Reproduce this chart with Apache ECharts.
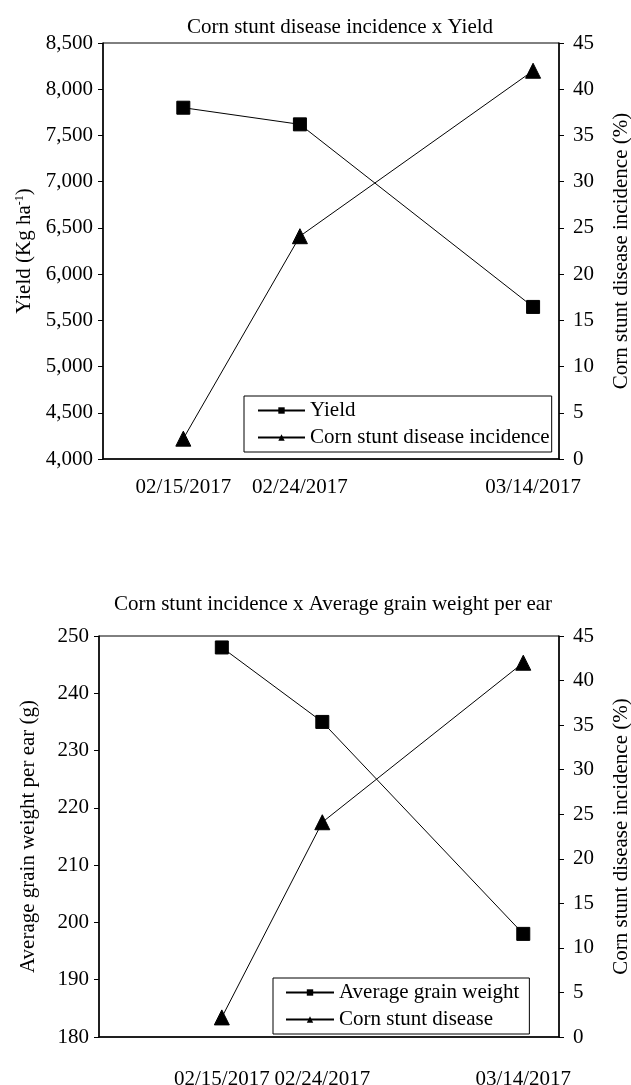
<!DOCTYPE html>
<html>
<head>
<meta charset="utf-8">
<script src="https://cdn.jsdelivr.net/npm/echarts@6/dist/echarts.min.js"></script>
<style>
html,body{margin:0;padding:0;background:#fff;}
#chart{width:631px;height:1085px;}
</style>
</head>
<body>
<div id="chart"></div>
<script>
// ---- data ----
const dates = ['2017-02-15', '2017-02-24', '2017-03-14'];
const dateLabels = ['02/15/2017', '02/24/2017', '03/14/2017'];
const yieldValues = [7800, 7620, 5645];
const incidenceTop = [2.2, 24.1, 42];
const grainWeight = [248, 235, 198];
const incidenceBottom = [2.2, 24.1, 42];
const yieldTicks = [4000, 8500, 500];
const weightTicks = [180, 250, 10];
const incidenceTicks = [0, 45, 5];

// ---- build ----
const DAY = 86400000;
const ts = dates.map(d => new Date(d + 'T00:00:00').getTime());
const labelMap = {};
ts.forEach((t, i) => { labelMap[t] = dateLabels[i]; });
const FONT = "'Liberation Serif', 'Times New Roman', serif";
const pairs = (vals) => vals.map((v, i) => [ts[i], v]);

function xAxis(gridIndex, minPad, maxPad, margin) {
  return {
    type: 'value', gridIndex,
    min: ts[0] - minPad * DAY, max: ts[ts.length - 1] + maxPad * DAY,
    axisLine: { show: true, onZero: false, lineStyle: { color: '#000', width: 1.5 } },
    axisTick: { show: false },
    splitLine: { show: false },
    axisLabel: {
      customValues: ts, margin,
      formatter: v => labelMap[v] || '',
      color: '#000', fontFamily: FONT, fontSize: 21
    }
  };
}
function yAxis(gridIndex, pos, t, name, nameGap, labelMargin, fmt, extraRich) {
  return {
    type: 'value', gridIndex, position: pos,
    min: t[0], max: t[1], interval: t[2],
    name, nameLocation: 'middle', nameRotate: 90, nameGap,
    nameTextStyle: {
      color: '#000', fontFamily: FONT, fontSize: 21,
      rich: extraRich || {}
    },
    axisLine: { show: true, lineStyle: { color: '#000', width: 1.5 } },
    axisTick: { show: true, inside: false, length: 5, lineStyle: { color: '#000' } },
    splitLine: { show: false },
    axisLabel: {
      margin: labelMargin, color: '#000', fontFamily: FONT, fontSize: 21,
      formatter: fmt || (v => String(v))
    }
  };
}
const supRich = {
  sup: { fontFamily: FONT, fontSize: 12, color: '#000', verticalAlign: 'top', padding: [0, 0, 10, 0] }
};
function lineSeries(name, xi, yi, vals, symbol, size) {
  return {
    name, type: 'line', xAxisIndex: xi, yAxisIndex: yi,
    data: pairs(vals), symbol, symbolSize: size, showSymbol: true,
    lineStyle: { color: '#000', width: 1 },
    itemStyle: { color: '#000', borderColor: '#000' },
    animation: false
  };
}

const option = {
  backgroundColor: '#fff',
  animation: false,
  title: [
    { text: 'Corn stunt disease incidence x Yield', left: 335, top: 12, textAlign: 'center',
      textStyle: { color: '#000', fontFamily: FONT, fontSize: 21, fontWeight: 'normal' } },
    { text: 'Corn stunt incidence x Average grain weight per ear', left: 328, top: 589, textAlign: 'center',
      textStyle: { color: '#000', fontFamily: FONT, fontSize: 21, fontWeight: 'normal' } }
  ],
  grid: [
    { left: 103, right: 72, top: 43, height: 416, show: true, borderColor: '#000', borderWidth: 1,
      containLabel: false, outerBoundsMode: 'none' },
    { left: 99, right: 72, top: 636, height: 401, show: true, borderColor: '#000', borderWidth: 1,
      containLabel: false, outerBoundsMode: 'none' }
  ],
  legend: [
    { data: ['Yield', 'Corn stunt disease incidence'], orient: 'vertical',
      left: 244, top: 396, padding: [4, 2, 4, 13], itemGap: 6,
      itemWidth: 47, itemHeight: 8,
      borderColor: '#000', borderWidth: 1, backgroundColor: '#fff',
      textStyle: { color: '#000', fontFamily: FONT, fontSize: 21 } },
    { data: ['Average grain weight', 'Corn stunt disease'], orient: 'vertical',
      left: 273, top: 978, padding: [4, 10, 4, 12], itemGap: 6,
      itemWidth: 48, itemHeight: 8,
      borderColor: '#000', borderWidth: 1, backgroundColor: '#fff',
      textStyle: { color: '#000', fontFamily: FONT, fontSize: 21 } }
  ],
  xAxis: [
    xAxis(0, 6.2, 2.0, 18),
    xAxis(1, 11.0, 3.2, 32)
  ],
  yAxis: [
    yAxis(0, 'left', yieldTicks, 'Yield (Kg ha{sup|-1})', 61, 10, v => v.toLocaleString('en-US'), supRich),
    yAxis(0, 'right', incidenceTicks, 'Corn stunt disease incidence (%)', 52, 14),
    yAxis(1, 'left', weightTicks, 'Average grain weight per ear (g)', 60, 10),
    yAxis(1, 'right', incidenceTicks, 'Corn stunt disease incidence (%)', 52, 14)
  ],
  series: [
    lineSeries('Yield', 0, 0, yieldValues, 'rect', 13),
    lineSeries('Corn stunt disease incidence', 0, 1, incidenceTop, 'triangle', 15),
    lineSeries('Average grain weight', 1, 2, grainWeight, 'rect', 13),
    lineSeries('Corn stunt disease', 1, 3, incidenceBottom, 'triangle', 15)
  ]
};
const chart = echarts.init(document.getElementById('chart'), null, { renderer: 'canvas' });
chart.setOption(option);
</script>
</body>
</html>
